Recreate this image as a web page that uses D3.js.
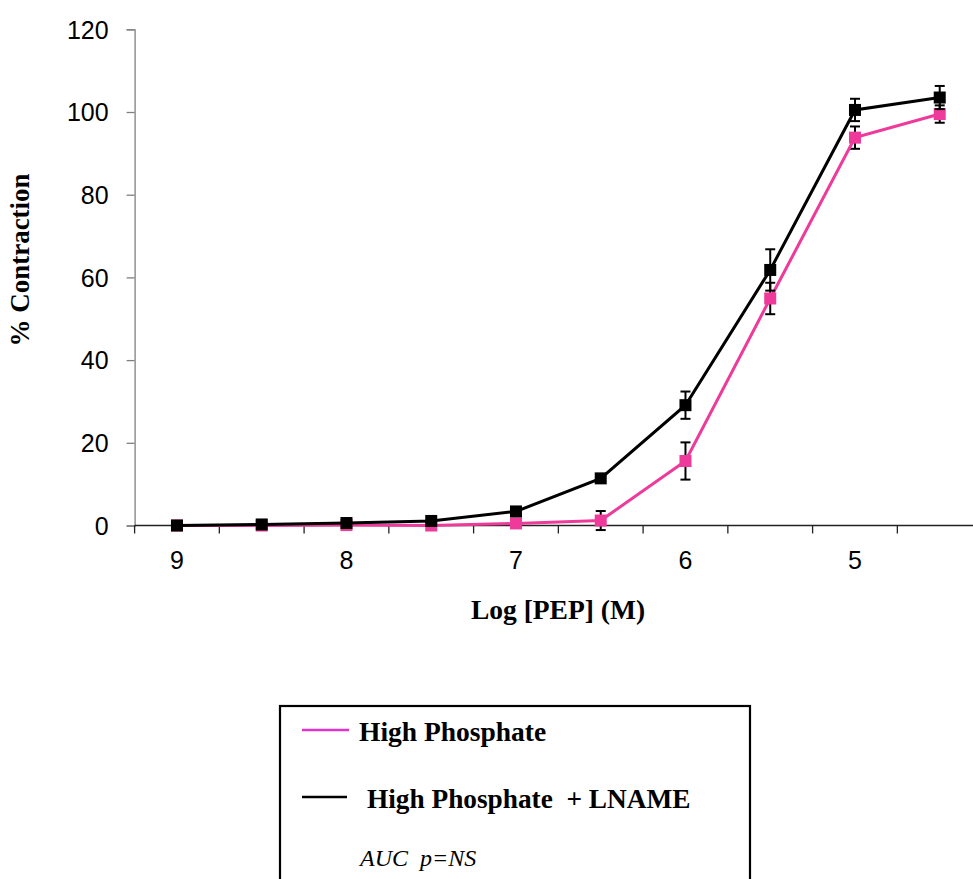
<!DOCTYPE html>
<html>
<head>
<meta charset="utf-8">
<script src="https://cdn.jsdelivr.net/npm/d3@7/dist/d3.min.js"></script>
<style>
  html, body { margin: 0; padding: 0; background: #fff; }
  svg { display: block; }
</style>
</head>
<body>
<div id="chart"></div>
<script>
// ---- data ----
const categories = ["9", "8.5", "8", "7.5", "7", "6.5", "6", "5.5", "5", "4.5"];
const tickLabels = ["9", "", "8", "", "7", "", "6", "", "5", ""];
const yTicks = [0, 20, 40, 60, 80, 100, 120];
const highPhosphate = [0, 0, 0.1, 0, 0.5, 1.2, 15.6, 54.9, 93.8, 99.5];
const highPhosphateSem = [0, 0, 0, 0, 0, 2.3, 4.5, 3.8, 2.7, 2.1];
const highPhosphateLname = [0, 0.25, 0.6, 1.1, 3.4, 11.4, 29.1, 61.8, 100.5, 103.5];
const highPhosphateLnameSem = [0, 0, 0, 0, 0.3, 0.6, 3.3, 5.0, 2.7, 2.8];
const seriesNames = ["High Phosphate", "High Phosphate  + LNAME"];
const noteText = "AUC  p=NS";

// ---- layout ----
const W = 973, H = 879;
const svg = d3.select("#chart").append("svg").attr("width", W).attr("height", H);
svg.append("rect").attr("width", W).attr("height", H).attr("fill", "#fff");

const x0 = 134.6, bandW = 84.75;
const x = d3.scaleBand().domain(categories).range([x0, x0 + bandW * categories.length]).paddingInner(0).paddingOuter(0);
const y = d3.scaleLinear().domain([0, 120]).range([525.5, 29.3]);

const pink = "#ee3a9a";
const legendPink = "#e033cc";
const sans = "Arial, 'Liberation Sans', sans-serif";
const serif = "'Liberation Serif', 'Times New Roman', serif";

// y axis
const yAxis = d3.axisLeft(y).tickValues(yTicks).tickSize(8).tickPadding(18).tickFormat(d3.format("d"));
const gy = svg.append("g").attr("transform", `translate(${x0},0)`).call(yAxis);
gy.select(".domain").attr("stroke", "#808080").attr("stroke-width", 1.3);
gy.selectAll(".tick line").attr("stroke", "#808080").attr("stroke-width", 1.3);
gy.selectAll(".tick text").attr("font-family", sans)
  .attr("font-size", 25).attr("fill", "#000").attr("dy", "0.35em");

// x axis (category style, ticks between categories)
const xAxisY = y(0);
svg.append("line").attr("x1", x0).attr("x2", W).attr("y1", xAxisY).attr("y2", xAxisY)
  .attr("stroke", "#222").attr("stroke-width", 1.3);
const edges = categories.map(c => x(c)).concat([x(categories[categories.length - 1]) + bandW]);
svg.append("g").selectAll("line").data(edges.filter(e => e <= W)).join("line")
  .attr("x1", d => d).attr("x2", d => d).attr("y1", xAxisY).attr("y2", xAxisY + 8)
  .attr("stroke", "#222").attr("stroke-width", 1.3);
svg.append("g").selectAll("text").data(categories).join("text")
  .attr("x", (d) => x(d) + bandW / 2).attr("y", 569)
  .attr("text-anchor", "middle")
  .attr("font-family", sans).attr("font-size", 25)
  .text((d, i) => tickLabels[i]);

// axis titles
svg.append("text").attr("x", 558).attr("y", 619).attr("text-anchor", "middle")
  .attr("font-family", serif).attr("font-weight", "bold")
  .attr("font-size", 27.5).text("Log [PEP] (M)");
svg.append("text").attr("transform", "translate(29,260) rotate(-90)").attr("text-anchor", "middle")
  .attr("font-family", serif).attr("font-weight", "bold")
  .attr("font-size", 27).text("% Contraction");

// series
const cx = c => x(c) + bandW / 2;
function drawSeries(vals, sems, color) {
  const pts = categories.map((c, i) => ({ c, v: vals[i], s: sems[i] }));
  const line = d3.line().x(d => cx(d.c)).y(d => y(d.v));
  const g = svg.append("g");
  const eb = g.append("g").attr("stroke", "#000").attr("stroke-width", 2);
  pts.filter(d => d.s > 0).forEach(d => {
    const px = cx(d.c);
    eb.append("line").attr("x1", px).attr("x2", px).attr("y1", y(d.v + d.s)).attr("y2", y(d.v - d.s));
    eb.append("line").attr("x1", px - 5).attr("x2", px + 5).attr("y1", y(d.v + d.s)).attr("y2", y(d.v + d.s));
    eb.append("line").attr("x1", px - 5).attr("x2", px + 5).attr("y1", y(d.v - d.s)).attr("y2", y(d.v - d.s));
  });
  g.append("path").datum(pts).attr("d", line).attr("fill", "none")
    .attr("stroke", color).attr("stroke-width", 3);
  g.selectAll("rect.m").data(pts).join("rect").attr("class", "m")
    .attr("x", d => cx(d.c) - 6).attr("y", d => y(d.v) - 6)
    .attr("width", 12).attr("height", 12).attr("fill", color);
}
drawSeries(highPhosphate, highPhosphateSem, pink);
drawSeries(highPhosphateLname, highPhosphateLnameSem, "#000");

// legend
const lg = svg.append("g");
lg.append("rect").attr("x", 280).attr("y", 706).attr("width", 470).attr("height", 200)
  .attr("fill", "none").attr("stroke", "#000").attr("stroke-width", 2.2);
lg.append("line").attr("x1", 302).attr("x2", 349).attr("y1", 730).attr("y2", 730)
  .attr("stroke", legendPink).attr("stroke-width", 2.5);
lg.append("text").attr("x", 359).attr("y", 741).attr("font-family", serif).attr("font-weight", "bold")
  .attr("font-size", 27.5).text(seriesNames[0]);
lg.append("line").attr("x1", 302).attr("x2", 347).attr("y1", 797).attr("y2", 797)
  .attr("stroke", "#000").attr("stroke-width", 2.5);
lg.append("text").attr("x", 367).attr("y", 808).attr("font-family", serif).attr("font-weight", "bold")
  .attr("font-size", 27.3).style("white-space", "pre").text(seriesNames[1]);
lg.append("text").attr("x", 360).attr("y", 866).attr("font-family", serif).attr("font-style", "italic")
  .attr("font-size", 24).style("white-space", "pre").text(noteText);
</script>
</body>
</html>
